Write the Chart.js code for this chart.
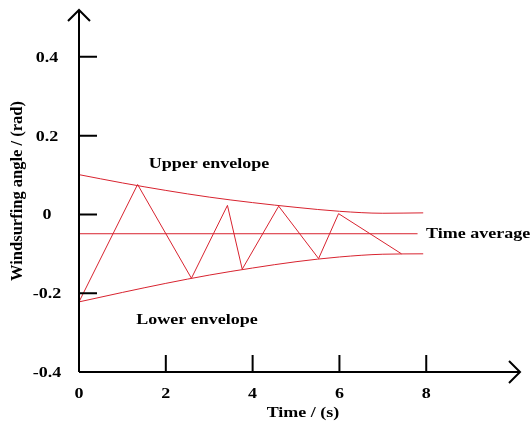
<!DOCTYPE html>
<html>
<head>
<meta charset="utf-8">
<script src="https://cdn.jsdelivr.net/npm/chart.js@4"></script>
<style>
    html, body { margin: 0; padding: 0; background: #fff; }
    #wrap { width: 530px; height: 425px; position: relative; }
</style>
</head>
<body>
<div id="wrap"><canvas id="chart"></canvas></div>
<script>
// Data
const xTicks = [0, 2, 4, 6, 8];
const yTicks = [0.4, 0.2, 0, -0.2, -0.4];

const zigzagX = [0, 1.35, 2.59, 3.42, 3.76, 4.60, 5.52, 5.98, 7.43];
const zigzagY = [-0.222, 0.076, -0.162, 0.023, -0.139, 0.021, -0.112, 0.002, -0.100];

const upperX = [0, 1, 2, 3, 4, 5, 6, 7, 7.93];
const upperY = [0.101, 0.080, 0.061, 0.044, 0.030, 0.018, 0.008, 0.003, 0.004];

const lowerX = [0, 1, 2, 3, 4, 5, 6, 7, 7.93];
const lowerY = [-0.222, -0.198, -0.175, -0.154, -0.136, -0.120, -0.108, -0.101, -0.100];

const averageX = [0, 7.8];
const averageY = [-0.049, -0.049];

const lineColor = '#d8232f';
const font = '"Liberation Serif", "Times New Roman", serif';

function toPoints(xs, ys) {
    return xs.map((x, i) => ({x: x, y: ys[i]}));
}

// the reference text is a bit wider than the serif font, so stretch it sideways
function wideText(ctx, text, x, y, align) {
    const stretch = 1.2;
    ctx.save();
    ctx.translate(x, y);
    ctx.scale(stretch, 1);
    ctx.textAlign = align;
    ctx.fillText(text, 0, 0);
    ctx.restore();
}

// axes with arrows, inward ticks and labels, drawn from the chart scales
const axesPlugin = {
    id: 'axes',
    afterDraw(chart) {
        const ctx = chart.ctx;
        const xs = chart.scales.x;
        const ys = chart.scales.y;
        const x0 = xs.getPixelForValue(0);
        const y0 = ys.getPixelForValue(-0.4);
        const xEnd = xs.getPixelForValue(xs.max);
        const yEnd = ys.getPixelForValue(ys.max);

        ctx.save();
        ctx.strokeStyle = '#000';
        ctx.lineWidth = 2;
        ctx.beginPath();
        ctx.moveTo(x0, y0);
        ctx.lineTo(x0, yEnd);
        ctx.moveTo(x0, y0);
        ctx.lineTo(xEnd, y0);
        // arrow heads
        ctx.moveTo(x0 - 11, yEnd + 11);
        ctx.lineTo(x0, yEnd);
        ctx.lineTo(x0 + 11, yEnd + 11);
        ctx.moveTo(xEnd - 11, y0 - 11);
        ctx.lineTo(xEnd, y0);
        ctx.lineTo(xEnd - 11, y0 + 11);
        ctx.stroke();

        ctx.beginPath();
        yTicks.forEach(v => {
            if (v === -0.4) return;
            const py = ys.getPixelForValue(v);
            ctx.moveTo(x0, py);
            ctx.lineTo(x0 + 18, py);
        });
        xTicks.forEach(v => {
            if (v === 0) return;
            const px = xs.getPixelForValue(v);
            ctx.moveTo(px, y0);
            ctx.lineTo(px, y0 - 17);
        });
        ctx.stroke();

        ctx.fillStyle = '#000';
        ctx.font = 'bold 15px ' + font;
        ctx.textBaseline = 'middle';
        yTicks.forEach(v => {
            wideText(ctx, v === 0 ? '0' : String(v), 47, ys.getPixelForValue(v) + 1, 'center');
        });
        xTicks.forEach(v => {
            wideText(ctx, String(v), xs.getPixelForValue(v), 394, 'center');
        });
        wideText(ctx, 'Time / (s)', 303, 413, 'center');

        // curve annotations
        wideText(ctx, 'Upper envelope', 209, 164, 'center');
        wideText(ctx, 'Lower envelope', 197, 320, 'center');
        wideText(ctx, 'Time average', 426, 234, 'left');

        ctx.font = 'bold 16.5px ' + font;
        ctx.textAlign = 'center';
        ctx.translate(18, 191);
        ctx.rotate(-Math.PI / 2);
        ctx.fillText('Windsurfing angle / (rad)', 0, 0);
        ctx.restore();
    }
};

const lineStyle = {
    showLine: true,
    borderColor: lineColor,
    borderWidth: 1,
    pointRadius: 0,
    fill: false
};

new Chart(document.getElementById('chart'), {
    type: 'scatter',
    data: {
        datasets: [
            Object.assign({label: 'Upper envelope', data: toPoints(upperX, upperY), cubicInterpolationMode: 'monotone'}, lineStyle),
            Object.assign({label: 'Lower envelope', data: toPoints(lowerX, lowerY), cubicInterpolationMode: 'monotone'}, lineStyle),
            Object.assign({label: 'Time average', data: toPoints(averageX, averageY)}, lineStyle),
            Object.assign({label: 'Angle', data: toPoints(zigzagX, zigzagY)}, lineStyle)
        ]
    },
    options: {
        responsive: true,
        maintainAspectRatio: false,
        animation: false,
        layout: {
            padding: {left: 79, right: 10, top: 10, bottom: 53}
        },
        plugins: {
            legend: {display: false},
            tooltip: {enabled: false}
        },
        scales: {
            x: {type: 'linear', min: 0, max: 10.16, display: false},
            y: {type: 'linear', min: -0.4, max: 0.519, display: false}
        }
    },
    plugins: [axesPlugin]
});
</script>
</body>
</html>
